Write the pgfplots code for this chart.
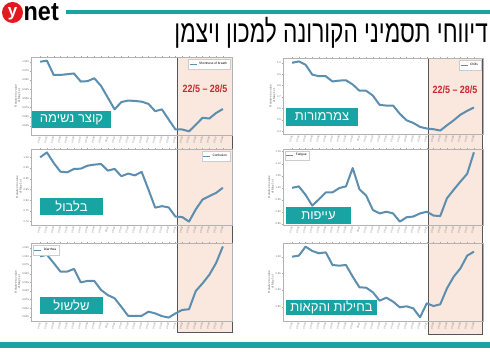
\documentclass[border=0pt]{standalone}
\usepackage{fontspec}
\usepackage{pgfplots}
\pgfplotsset{compat=1.18}
\usetikzlibrary{backgrounds}
\setmainfont{Liberation Sans}
\newfontfamily\heb[Script=Hebrew]{Liberation Sans}
\newfontfamily\hebtitle[Script=Hebrew,FakeStretch=0.73]{Liberation Sans}
\newfontfamily\netfont[FakeStretch=0.9]{Liberation Sans}
\newfontfamily\condfont[FakeStretch=0.85]{Liberation Sans}
\TeXXeTstate=1
\definecolor{teal1}{RGB}{26,163,163}
\definecolor{line1}{RGB}{92,142,176}
\definecolor{peach}{RGB}{250,231,221}
\definecolor{redtxt}{RGB}{200,40,48}
\definecolor{ynetred}{RGB}{225,25,30}
\definecolor{frame1}{RGB}{85,85,90}

\pgfplotsset{
  panel/.style={
    scale only axis,
    xmin=-1.35, xmax=28.35,
    axis line style={gray!60, line width=0.4pt},
    tick align=outside,
    major tick length=1.2pt,
    tick style={gray!70, line width=0.3pt},
    xtick={0,...,27},
    xticklabels={05-01,05-02,05-03,05-04,05-05,05-06,05-07,05-08,05-09,05-10,05-11,05-12,05-13,05-14,05-15,05-16,05-17,05-18,05-19,05-20,05-21,05-22,05-23,05-24,05-25,05-26,05-27,05-28},
    x tick label style={rotate=75, anchor=east, font=\fontsize{2.4}{2.6}\selectfont, inner sep=0.5pt, text=gray!80!black},
    y tick label style={font=\fontsize{2.6}{3}\selectfont, inner sep=0.8pt, text=gray!80!black},
    /pgf/number format/assume math mode=true,
    /pgf/number format/fixed,
    /pgf/number format/fixed zerofill,
    ylabel={Relative to value\\of May 1st},
    ylabel style={font=\fontsize{3}{3.4}\selectfont, align=center, inner sep=0.5pt, text=gray!80!black},
    cycle list={{line1, mark=none}},
    every axis plot post/.append style={line width=2pt, line join=round},
    legend style={font=\fontsize{3.2}{3.6}\selectfont, draw=gray!40, fill=white, inner sep=0.8pt, legend cell align=left},
    legend image code/.code={\draw[#1, line width=0.9pt] (0pt,0pt) -- (7pt,0pt);},
  },
}

\begin{document}
\begin{tikzpicture}
\useasboundingbox (0pt,0pt) rectangle (490pt,352pt);

% Top-left: shortness of breath
\begin{axis}[panel, at={(31pt,217pt)}, width=201pt, height=78pt,
  ymin=0.800, ymax=1.013, ytick={0.825,0.850,0.875,0.900,0.925,0.950,0.975,1.000},
  /pgf/number format/precision=3,
  legend style={at={(0.99,0.97)}, anchor=north east}]
\addplot coordinates {(0,1.000) (1,1.003) (2,0.964) (3,0.964) (4,0.966) (5,0.968) (6,0.946) (7,0.947) (8,0.955) (9,0.934) (10,0.902) (11,0.870) (12,0.890) (13,0.894) (14,0.893) (15,0.891) (16,0.885) (17,0.865) (18,0.870) (19,0.842) (20,0.815) (21,0.815) (22,0.810) (23,0.828) (24,0.847) (25,0.845) (26,0.860) (27,0.871)};
\addlegendentry{Shortness of breath}
\end{axis}

% Top-right: chills
\begin{axis}[panel, at={(283pt,218pt)}, width=200pt, height=76pt,
  ymin=0.376, ymax=1.042, ytick={0.4,0.5,0.6,0.7,0.8,0.9,1.0},
  /pgf/number format/precision=1,
  legend style={at={(0.99,0.97)}, anchor=north east}]
\addplot coordinates {(0,1.000) (1,1.012) (2,0.983) (3,0.896) (4,0.882) (5,0.882) (6,0.836) (7,0.844) (8,0.847) (9,0.810) (10,0.755) (11,0.755) (12,0.712) (13,0.631) (14,0.625) (15,0.625) (16,0.553) (17,0.496) (18,0.473) (19,0.438) (20,0.424) (21,0.418) (22,0.406) (23,0.452) (24,0.496) (25,0.545) (26,0.579) (27,0.608)};
\addlegendentry{Chills}
\end{axis}

% Middle-left: confusion
\begin{axis}[panel, at={(31pt,127pt)}, width=201pt, height=76pt,
  ymin=0.684, ymax=1.039, ytick={0.70,0.75,0.80,0.85,0.90,0.95,1.00},
  /pgf/number format/precision=2,
  legend style={at={(0.99,0.97)}, anchor=north east}]
\addplot coordinates {(0,1.000) (1,1.023) (2,0.974) (3,0.933) (4,0.930) (5,0.946) (6,0.947) (7,0.961) (8,0.966) (9,0.969) (10,0.938) (11,0.946) (12,0.912) (13,0.924) (14,0.916) (15,0.932) (16,0.850) (17,0.765) (18,0.772) (19,0.766) (20,0.723) (21,0.721) (22,0.700) (23,0.757) (24,0.803) (25,0.819) (26,0.834) (27,0.858)};
\addlegendentry{Confusion}
\end{axis}

% Middle-right: fatigue
\begin{axis}[panel, at={(283pt,127pt)}, width=200pt, height=76pt,
  ymin=0.846, ymax=1.161, ytick={0.85,0.90,0.95,1.00,1.05,1.10,1.15},
  /pgf/number format/precision=2,
  legend style={at={(0.01,0.98)}, anchor=north west}]
\addplot coordinates {(0,1.000) (1,1.006) (2,0.971) (3,0.926) (4,0.953) (5,0.981) (6,0.981) (7,0.999) (8,1.006) (9,1.082) (10,0.994) (11,0.968) (12,0.908) (13,0.894) (14,0.901) (15,0.894) (16,0.860) (17,0.878) (18,0.881) (19,0.894) (20,0.901) (21,0.885) (22,0.883) (23,0.957) (24,0.992) (25,1.026) (26,1.058) (27,1.147)};
\addlegendentry{Fatigue}
\end{axis}

% Bottom-left: diarrhea
\begin{axis}[panel, at={(31pt,31pt)}, width=201pt, height=78pt,
  ymin=0.813, ymax=1.039, ytick={0.825,0.850,0.875,0.900,0.925,0.950,0.975,1.000,1.025},
  /pgf/number format/precision=3,
  legend style={at={(0.01,0.97)}, anchor=north west}]
\addplot coordinates {(0,1.000) (1,1.005) (2,0.981) (3,0.956) (4,0.956) (5,0.964) (6,0.925) (7,0.929) (8,0.929) (9,0.903) (10,0.888) (11,0.879) (12,0.854) (13,0.828) (14,0.828) (15,0.828) (16,0.840) (17,0.835) (18,0.827) (19,0.823) (20,0.835) (21,0.845) (22,0.847) (23,0.900) (24,0.922) (25,0.947) (26,0.981) (27,1.029)};
\addlegendentry{Diarrhea}
\end{axis}

% Bottom-right: nausea and vomiting
\begin{axis}[panel, at={(283pt,31pt)}, width=200pt, height=78pt,
  ymin=0.807, ymax=1.041, ytick={0.85,0.90,0.95,1.00},
  /pgf/number format/precision=2]
\addplot coordinates {(0,1.000) (1,1.003) (2,1.030) (3,1.017) (4,1.010) (5,1.013) (6,0.975) (7,0.973) (8,0.975) (9,0.940) (10,0.908) (11,0.907) (12,0.893) (13,0.868) (14,0.877) (15,0.865) (16,0.848) (17,0.851) (18,0.845) (19,0.818) (20,0.860) (21,0.852) (22,0.857) (23,0.905) (24,0.940) (25,0.965) (26,1.003) (27,1.015)};
\end{axis}

% Labels (teal boxes)
\tikzset{lbl/.style={fill=teal1, text=white, inner sep=0pt, font=\heb\fontsize{13}{13}\selectfont}}
\node[lbl, minimum width=79pt, minimum height=17pt] at (71.5pt,232.5pt) {\beginR קוצר נשימה\endR};
\node[lbl, minimum width=72pt, minimum height=18pt] at (322pt,235pt) {\beginR צמרמורות\endR};
\node[lbl, minimum width=63pt, minimum height=17.5pt] at (71.5pt,145.5pt) {\beginR בלבול\endR};
\node[lbl, minimum width=65pt, minimum height=17pt] at (318.5pt,136.3pt) {\beginR עייפות\endR};
\node[lbl, minimum width=63pt, minimum height=17.5pt] at (71.5pt,46.7pt) {\beginR שלשול\endR};
\node[lbl, minimum width=91pt, minimum height=15.5pt] at (331.5pt,44.5pt) {\beginR בחילות והקאות\endR};

% Date range
\node[text=redtxt, font=\condfont\bfseries\fontsize{10.5}{11}\selectfont, inner sep=0pt] at (205pt,263pt) {22/5 – 28/5};
\node[text=redtxt, font=\condfont\bfseries\fontsize{10.5}{11}\selectfont, inner sep=0pt] at (455pt,262pt) {22/5 – 28/5};

% Title
\node[anchor=base east, inner sep=0pt, font=\hebtitle\fontsize{31}{31}\selectfont] at (488pt,309pt) {\beginR דיווחי תסמיני הקורונה למכון ויצמן\endR};

% ynet logo
\fill[ynetred] (12.5pt,339.5pt) circle (10.5pt);
\node[text=white, font=\bfseries\fontsize{17}{17}\selectfont, inner sep=0pt] at (12.5pt,338pt) {y};
\node[anchor=base west, inner sep=0pt, font=\netfont\bfseries\fontsize{26}{26}\selectfont] at (23.5pt,331pt) {net};
\draw[teal1, line width=4pt] (66pt,340pt) -- (490pt,340pt);

% bottom bar
\fill[teal1] (0pt,4pt) rectangle (490pt,10pt);

\begin{scope}[on background layer]
\fill[white] (0pt,0pt) rectangle (490pt,352pt);
\fill[peach] (177pt,20pt) rectangle (232pt,295pt);
\fill[peach] (428pt,18pt) rectangle (482pt,294pt);
\draw[frame1, line width=0.6pt] (177pt,20pt) rectangle (232pt,295pt);
\draw[frame1, line width=0.6pt] (428pt,18pt) rectangle (482pt,294pt);
\end{scope}
\end{tikzpicture}
\end{document}
